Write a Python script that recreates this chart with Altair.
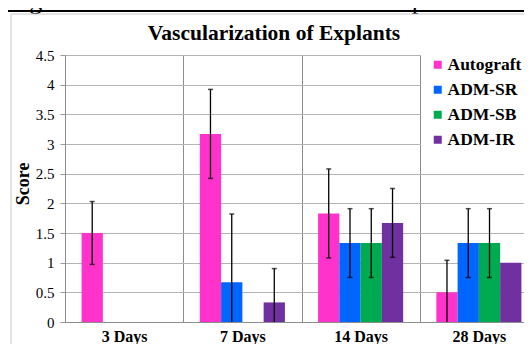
import altair as alt
import pandas as pd

# ---- data ----
days = ["3 Days", "7 Days", "14 Days", "28 Days"]
series = ["Autograft", "ADM-SR", "ADM-SB", "ADM-IR"]
colors = ["#FF33CC", "#0066FF", "#00AA50", "#7030A0"]

autograft = [1.5, 3.17, 1.83, 0.5]
adm_sr = [0.0, 0.67, 1.33, 1.33]
adm_sb = [0.0, 0.0, 1.33, 1.33]
adm_ir = [0.0, 0.33, 1.67, 1.0]

autograft_err = [0.53, 0.75, 0.75, 0.54]
adm_sr_err = [0.0, 1.15, 0.58, 0.58]
adm_sb_err = [0.0, 0.0, 0.58, 0.58]
adm_ir_err = [0.0, 0.57, 0.58, 0.0]

y_ticks = [0, 0.5, 1, 1.5, 2, 2.5, 3, 3.5, 4, 4.5]

chart_title = "Vascularization of Explants"
figure_caption = "Figure 1: Cellular infiltration of all implants over"
y_title = "Score"

# ---- build table ----
vals = [autograft, adm_sr, adm_sb, adm_ir]
errs = [autograft_err, adm_sr_err, adm_sb_err, adm_ir_err]
rows = []
for s, v_list, e_list in zip(series, vals, errs):
    for d, v, e in zip(days, v_list, e_list):
        rows.append({"day": d, "series": s, "value": v, "err": e,
                     "lo": max(v - e, 0.0), "hi": v + e})
df = pd.DataFrame(rows)
err_df = df[df["err"] > 0]
caps = []
for _, r in err_df.iterrows():
    caps.append({"day": r["day"], "series": r["series"], "y": r["hi"]})
    if r["value"] - r["err"] > 0:
        caps.append({"day": r["day"], "series": r["series"], "y": r["lo"]})
caps_df = pd.DataFrame(caps)

SERIF = "Liberation Serif"

x_enc = alt.X("day:N", sort=days, title=None,
              scale=alt.Scale(domain=days, range=[0, 473], paddingInner=0, paddingOuter=0),
              axis=alt.Axis(labelFont=SERIF, labelFontSize=16, labelFontWeight="bold",
                            labelColor="#000000", labelPadding=19,
                            labelBaseline="alphabetic", labelAngle=0,
                            ticks=False, tickBand="extent", grid=True,
                            gridColor="#8c8c8c", gridWidth=1,
                            domainColor="#8c8c8c", domainWidth=1))
xo_enc = alt.XOffset("series:N", sort=series,
                     scale=alt.Scale(domain=series, paddingInner=0, paddingOuter=0.78))
y_axis = alt.Axis(values=y_ticks, format="~g", labelFont=SERIF, labelFontSize=15,
                  labelColor="#000000", labelPadding=6, tickSize=5,
                  tickColor="#9a9a9a", grid=True, gridColor="#b4b4b4",
                  domainColor="#8c8c8c", title=y_title, titleFont=SERIF,
                  titleFontSize=18, titleFontWeight="bold", titleColor="#000000",
                  titleX=-36.5, titleY=128.4, titleAlign="center",
                  titleBaseline="alphabetic")
y_scale = alt.Scale(domain=[0, 4.5], nice=False, zero=True)

bars = alt.Chart(df).mark_bar().encode(
    x=x_enc, xOffset=xo_enc,
    y=alt.Y("value:Q", scale=y_scale, axis=y_axis),
    color=alt.Color("series:N", sort=series,
                    scale=alt.Scale(domain=series, range=colors),
                    legend=alt.Legend(title=None, orient="none", legendX=356, legendY=-7,
                                      fillColor="white", padding=8,
                                      symbolType="square", symbolSize=64,
                                      symbolStrokeWidth=0, labelFont=SERIF,
                                      labelFontSize=17.5, labelFontWeight="bold",
                                      labelColor="#000000", labelOffset=1,
                                      rowPadding=6)),
)

err_rules = alt.Chart(err_df).mark_rule(color="#000000", strokeWidth=1.3).encode(
    x=x_enc, xOffset=xo_enc,
    y=alt.Y("lo:Q", scale=y_scale, axis=y_axis),
    y2="hi:Q",
)

err_caps = alt.Chart(caps_df).mark_tick(color="#000000", size=5, thickness=1.5).encode(
    x=x_enc, xOffset=xo_enc,
    y=alt.Y("y:Q", scale=y_scale, axis=y_axis),
)

title_layer = alt.Chart(pd.DataFrame({"t": [chart_title]})).mark_text(
    font=SERIF, fontSize=21.5, fontWeight="bold", color="#000000",
    align="center", baseline="alphabetic").encode(
    text="t:N", x=alt.value(209), y=alt.value(-15))

caption_layer = alt.Chart(pd.DataFrame({"t": [figure_caption]})).mark_text(
    font=SERIF, fontSize=26.5, color="#000000", align="left",
    baseline="alphabetic").encode(text="t:N", x=alt.value(-58), y=alt.value(-47))

underline = alt.Chart(pd.DataFrame({"t": [figure_caption]})).mark_rule(
    color="#000000", strokeWidth=2).encode(
    x=alt.value(-58), x2=alt.value(470), y=alt.value(-44))

border_top = alt.Chart(pd.DataFrame({"t": [0]})).mark_rule(
    color="#c8c8c8", strokeWidth=1).encode(
    x=alt.value(-54), x2=alt.value(470), y=alt.value(-41))
border_left = alt.Chart(pd.DataFrame({"t": [0]})).mark_rule(
    color="#c8c8c8", strokeWidth=1).encode(
    x=alt.value(-54), y=alt.value(-41), y2=alt.value(300))

chart = alt.layer(
    bars, err_rules, err_caps, title_layer, caption_layer, underline,
    border_top, border_left
).properties(
    width=467, height=267,
    autosize=alt.AutoSizeParams(type="none"),
    padding={"left": 57, "top": 47, "right": -8, "bottom": 22},
    background="white",
).configure_view(stroke=None)

chart.save("out.html", embed_options={"renderer": "svg", "actions": False})
